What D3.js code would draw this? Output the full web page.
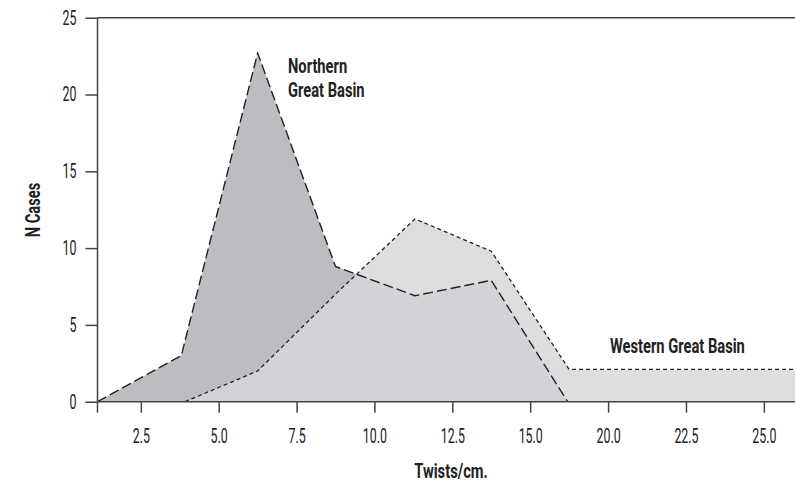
<!DOCTYPE html>
<html>
<head>
<meta charset="utf-8">
<script src="https://cdn.jsdelivr.net/npm/d3@7"></script>
<style>
  html, body { margin: 0; padding: 0; background: #fff; }
  svg { display: block; }
</style>
</head>
<body>
<svg id="chart" width="795" height="483"></svg>
<script>
// ---- data (x = position along the axis, in the axis' own tick units) ----
const northernX = [1.11, 3.8, 6.25, 8.75, 11.3, 13.75, 16.2];
const northernY = [0, 3, 22.7, 8.8, 6.9, 7.9, 0];
const westernX  = [3.92, 6.25, 8.75, 11.3, 13.75, 16.25, 23.5];
const westernY  = [0, 2, 7, 11.9, 9.8, 2.1, 2.1];
const xTickValues = [2.5, 5, 7.5, 10, 12.5, 15, 17.5, 20, 22.5];
const xTickLabels = ["2.5", "5.0", "7.5", "10.0", "12.5", "15.0", "20.0", "22.5", "25.0"];
const yTickValues = [0, 5, 10, 15, 20, 25];
const xDomain = [1.11, 23.5];
const yDomain = [0, 25];

(function () {
const svg = d3.select("#chart");
const mLeft = 97.5, mRight = 795, mTop = 17.7, mBottom = 401.7;
const x = d3.scaleLinear().domain(xDomain).range([mLeft, mRight]);
const y = d3.scaleLinear().domain(yDomain).range([mBottom, mTop]);

const nData = northernX.map((v, i) => [v, northernY[i]]);
const wData = westernX.map((v, i) => [v, westernY[i]]);

const area = d3.area().x(d => x(d[0])).y0(y(0)).y1(d => y(d[1]));
const line = d3.line().x(d => x(d[0])).y(d => y(d[1]));

// areas
svg.append("path").datum(nData).attr("d", area).attr("fill", "#bcbdc0");
svg.append("path").datum(wData).attr("d", area).attr("fill", "#d6d7d9").attr("fill-opacity", 0.85);

// lines
svg.append("path").datum(nData).attr("d", line)
  .attr("fill", "none").attr("stroke", "#222").attr("stroke-width", 1.4)
  .attr("stroke-dasharray", "10,4").attr("stroke-linejoin", "miter");
svg.append("path").datum(wData).attr("d", line)
  .attr("fill", "none").attr("stroke", "#222").attr("stroke-width", 1.3)
  .attr("stroke-dasharray", "4,3");

const axisColor = "#444";
const tickFont = "Roboto, 'DejaVu Sans', sans-serif";

// x axis
const xAxis = d3.axisBottom(x).tickValues(xTickValues)
  .tickFormat((d, i) => xTickLabels[i]).tickSize(11).tickPadding(16);
const gx = svg.append("g").attr("transform", `translate(0,${mBottom})`).call(xAxis);
gx.select(".domain").remove();
gx.append("line").attr("x1", mLeft).attr("x2", mRight).attr("y1", 0).attr("y2", 0)
  .attr("stroke", axisColor).attr("stroke-width", 1.5);
gx.selectAll(".tick line").attr("stroke", axisColor).attr("stroke-width", 1.5);
gx.selectAll(".tick text").attr("fill", "#222").style("font-family", tickFont)
  .style("font-size", "20px").attr("dy", "0.71em");

// y axis
const yAxis = d3.axisLeft(y).tickValues(yTickValues).tickSize(12).tickPadding(9);
const gy = svg.append("g").attr("transform", `translate(${mLeft},0)`).call(yAxis);
gy.select(".domain").remove();
gy.append("line").attr("x1", 0).attr("x2", 0).attr("y1", mTop).attr("y2", mBottom + 11)
  .attr("stroke", axisColor).attr("stroke-width", 1.5);
gy.selectAll(".tick line").attr("stroke", axisColor).attr("stroke-width", 1.5);
gy.selectAll(".tick text").attr("fill", "#222").style("font-family", tickFont)
  .style("font-size", "20px").attr("dy", "0.32em");

// top border
svg.append("line").attr("x1", mLeft).attr("x2", mRight).attr("y1", mTop).attr("y2", mTop)
  .attr("stroke", axisColor).attr("stroke-width", 1.5);

// titles and labels
const boldFont = "Roboto, 'DejaVu Sans', sans-serif";
function label(txt, px, py, anchor, rot) {
  const t = svg.append("text").text(txt).attr("x", px).attr("y", py)
    .attr("text-anchor", anchor).attr("fill", "#222")
    .style("font-family", boldFont).style("font-size", "21px").style("font-weight", "700");
  if (rot) t.attr("data-rot", rot);
  return t;
}
label("Twists/cm.", 451, 478, "middle");
label("N Cases", 40, 210, "middle", -90);
label("Northern", 288, 73.3, "start");
label("Great Basin", 288, 96.7, "start");
label("Western Great Basin", 610, 353, "start");

// condense all text horizontally to mimic the narrow typeface
svg.selectAll("text").each(function () {
  const el = d3.select(this);
  const k = this.style.fontWeight === "700" ? 0.70 : 0.62;
  const px = +el.attr("x") || 0, py = +el.attr("y") || 0;
  const rot = el.attr("data-rot");
  const base = rot ? `rotate(${rot},${px},${py}) ` : "";
  el.attr("transform", `${base}translate(${px},${py}) scale(${k},1) translate(${-px},${-py})`);
});
})();
</script>
</body>
</html>
